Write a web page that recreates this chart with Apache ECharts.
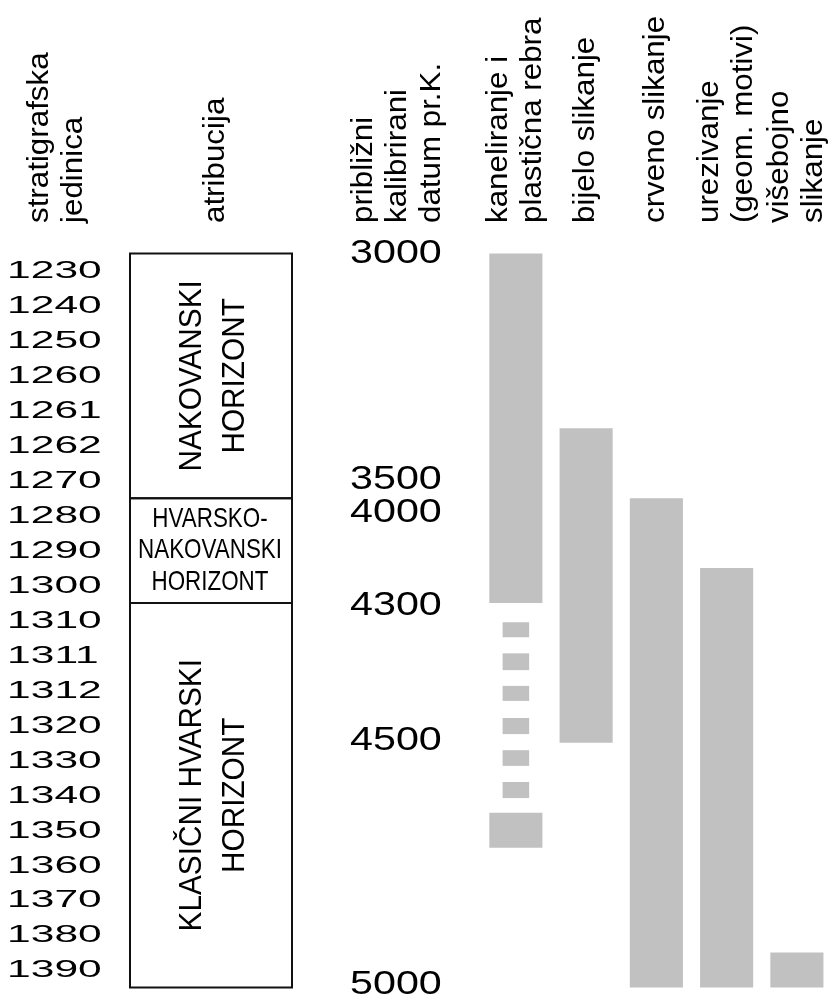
<!DOCTYPE html>
<html>
<head>
<meta charset="utf-8">
<script src="https://cdn.jsdelivr.net/npm/echarts@6/dist/echarts.min.js"></script>
<style>
html,body{margin:0;padding:0;background:#fff;}
#chart{width:832px;height:1003px;}
</style>
</head>
<body>
<div id="chart"></div>
<script>
// ---------------- DATA ----------------
const strataUnits = ['1230','1240','1250','1260','1261','1262','1270','1280','1290','1300',
  '1310','1311','1312','1320','1330','1340','1350','1360','1370','1380','1390'];

const attributionNames = ['NAKOVANSKI\nHORIZONT', 'HVARSKO-\nNAKOVANSKI\nHORIZONT', 'KLASIČNI HVARSKI\nHORIZONT'];
const attributionFirstUnit = ['1230', '1280', '1310'];
const attributionLastUnit  = ['1270', '1300', '1390'];

const dateLabels    = ['3000', '3500', '4000', '4300', '4500', '5000'];
// position of each date label, in stratigraphic rows counted from the top
const datePositions = [0, 6.45, 7.39, 10.05, 13.92, 20.9];

const features = ['kaneliranje i\nplastična rebra', 'bijelo slikanje', 'crveno slikanje',
  'urezivanje\n(geom. motivi)', 'višebojno\nslikanje'];

// occurrence ranges (rows from the top); certain = 1 full bar, 0 = uncertain (dashed)
const presenceFeature = [0, 0, 0, 0, 0, 0, 0, 0, 1, 2, 3, 4];
const presenceFrom    = [0, 10.55, 11.44, 12.37, 13.29, 14.21, 15.12, 16, 5, 7, 9, 20];
const presenceTo      = [10, 10.98, 11.92, 12.80, 13.75, 14.66, 15.58, 17, 14, 21, 21, 21];
const presenceCertain = [1, 0, 0, 0, 0, 0, 0, 1, 1, 1, 1, 1];

const headerStrata = 'stratigrafska\njedinica';
const headerAttribution = 'atribucija';
const headerDates = 'približni\nkalibrirani\ndatum pr.K.';

// ---------------- CHART ----------------
const FONT = '"Liberation Sans", Arial, Helvetica, sans-serif';
const rowCount = strataUnits.length;
const unitIndex = u => strataUnits.indexOf(u);
const GRID_TOP = 253.5, GRID_H = 734;
const HEAD = { rotate: true, align: 'left', size: 29, lineHeight: 34, scaleX: 1.08 };

function textEl(x, y, text, o) {
  return {
    type: 'text', x: x, y: y,
    rotation: o.rotate ? Math.PI / 2 : 0,
    scaleX: o.scaleX || 1,
    silent: true,
    style: {
      text: text, fontFamily: FONT, fontSize: o.size, lineHeight: o.lineHeight || o.size * 1.2,
      fill: '#000', align: o.align || 'center', verticalAlign: o.vAlign || 'middle'
    }
  };
}

const yAxisCommon = { type: 'value', min: 0, max: rowCount, inverse: true, show: false };

const option = {
  animation: false,
  backgroundColor: '#fff',
  grid: [
    { left: 130, width: 162, top: GRID_TOP, height: GRID_H },   // attribution
    { left: 350, width: 90,  top: GRID_TOP, height: GRID_H },   // dates
    { left: 480.75, width: 352.5, top: GRID_TOP, height: GRID_H } // features
  ],
  xAxis: [
    { gridIndex: 0, type: 'value', min: 0, max: 1, show: false },
    { gridIndex: 1, type: 'value', min: 0, max: 1, show: false },
    { gridIndex: 2, type: 'category', data: features, boundaryGap: true, show: false }
  ],
  yAxis: [
    Object.assign({ gridIndex: 0 }, yAxisCommon),
    Object.assign({ gridIndex: 1 }, yAxisCommon),
    Object.assign({ gridIndex: 2 }, yAxisCommon)
  ],
  graphic: [
    textEl(57, 223, headerStrata, HEAD),
    textEl(216, 223, headerAttribution, HEAD),
    textEl(398, 223, headerDates, HEAD)
  ],
  series: [
    { // stratigraphic unit labels
      type: 'custom', name: 'stratigrafska jedinica', xAxisIndex: 0, yAxisIndex: 0, silent: true,
      data: strataUnits.map((u, i) => [0, i + 0.5]),
      encode: { x: 0, y: 1 },
      renderItem: function (params, api) {
        const p = api.coord([0, api.value(1)]);
        return textEl(p[0] - 122.9, p[1] + 1, strataUnits[params.dataIndex],
          { align: 'left', size: 23, scaleX: 1.85 });
      }
    },
    { // attribution boxes
      type: 'custom', name: 'atribucija', xAxisIndex: 0, yAxisIndex: 0, silent: true,
      data: attributionNames.map((n, i) => [unitIndex(attributionFirstUnit[i]), unitIndex(attributionLastUnit[i]) + 1]),
      encode: { y: [0, 1] },
      renderItem: function (params, api) {
        const a = api.coord([0, api.value(0)]);
        const b = api.coord([1, api.value(1)]);
        const w = b[0] - a[0], h = b[1] - a[1];
        const vertical = h > w;
        const label = attributionNames[params.dataIndex];
        return {
          type: 'group',
          children: [
            { type: 'rect', shape: { x: a[0], y: a[1], width: w, height: h },
              style: { fill: 'none', stroke: '#111', lineWidth: 2 } },
            vertical
              ? textEl(a[0] + w / 2 + 3, a[1] + h / 2, label, { rotate: true, size: 31, lineHeight: 43, scaleX: 0.96 })
              : textEl(a[0] + w / 2 - 1, a[1] + h / 2, label, { size: 28, lineHeight: 31.7, scaleX: 0.8 })
          ]
        };
      }
    },
    { // date labels
      type: 'custom', name: 'datum', xAxisIndex: 1, yAxisIndex: 1, silent: true,
      data: dateLabels.map((d, i) => [0, datePositions[i]]),
      encode: { x: 0, y: 1 },
      renderItem: function (params, api) {
        const p = api.coord([0, api.value(1)]);
        return textEl(p[0], p[1] + 1, dateLabels[params.dataIndex], { align: 'left', size: 32.5, scaleX: 1.27 });
      }
    },
    { // feature headers
      type: 'custom', name: 'headers', xAxisIndex: 2, yAxisIndex: 2, silent: true,
      data: features.map((f, i) => [i, 0]),
      encode: { x: 0, y: 1 },
      renderItem: function (params, api) {
        const p = api.coord([api.value(0), 0]);
        return textEl(p[0], p[1] - 30.5, features[params.dataIndex], HEAD);
      }
    },
    { // occurrence bars
      type: 'custom', name: 'pojava', xAxisIndex: 2, yAxisIndex: 2, silent: true,
      data: presenceFeature.map((f, i) => [f, presenceFrom[i], presenceTo[i], presenceCertain[i]]),
      encode: { x: 0, y: [1, 2] },
      renderItem: function (params, api) {
        const f = api.value(0);
        const band = api.size([1, 0])[0];
        const w = band * (api.value(3) ? 0.756 : 0.378);
        const t = api.coord([f, api.value(1)]);
        const b = api.coord([f, api.value(2)]);
        return { type: 'rect', shape: { x: t[0] - w / 2, y: t[1], width: w, height: b[1] - t[1] },
          style: { fill: '#c1c1c1' } };
      }
    }
  ]
};

const chart = echarts.init(document.getElementById('chart'));
chart.setOption(option);
</script>
</body>
</html>
